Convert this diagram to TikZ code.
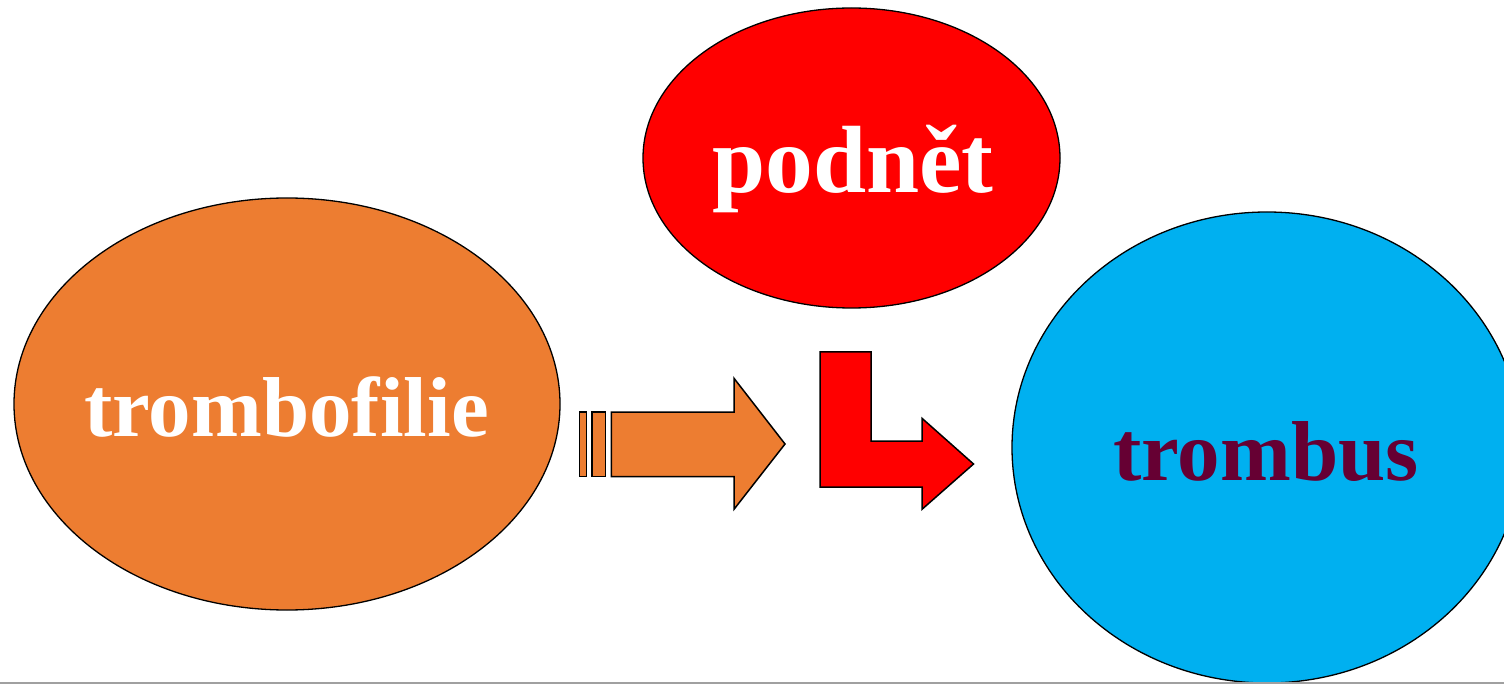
\documentclass[tikz,border=0pt]{standalone}
\usepackage{fontspec}
\setmainfont{Liberation Serif}
\usetikzlibrary{shapes.geometric}
\definecolor{orangeA}{HTML}{ED7D31}
\definecolor{redA}{HTML}{FF0000}
\definecolor{blueA}{HTML}{00B0F0}
\definecolor{maroonA}{HTML}{660033}
\definecolor{rule}{HTML}{A0A0A0}
\tikzset{
  blob/.style={ellipse, draw=black, line width=1.3pt, inner sep=0pt},
  word/.style={anchor=base, inner sep=0pt, font=\bfseries},
  blockarrow/.style={draw=black, line width=1.5pt, line join=miter},
}
\begin{document}
\begin{tikzpicture}[x=1pt, y=-1pt]
\useasboundingbox (0,0) rectangle (1504,684);
\clip (0,0) rectangle (1504,684);
\fill[white] (0,0) rectangle (1504,684);

% the three ellipses
\node[blob, fill=orangeA, minimum width=546pt, minimum height=412pt] (trombofilie) at (287,404) {};
\node[blob, fill=redA, minimum width=417pt, minimum height=300pt] (podnet) at (851.5,158) {};
\node[blob, fill=blueA, minimum width=510pt, minimum height=471pt] (trombus) at (1267,447.5) {};

% their labels
\node[word, text=white, font=\bfseries\fontsize{85}{85}\selectfont] (t1) at (286.5,436.7) {trombofilie};
\node[word, text=white, font=\bfseries\fontsize{95.5}{95.5}\selectfont] (t2) at (853,192.7) {podnět};
\node[word, text=maroonA, font=\bfseries\fontsize{85}{85}\selectfont] (t3) at (1266,480.7) {trombus};

% striped block arrow
\filldraw[blockarrow, fill=orangeA] (579.3,412) rectangle (586.7,476.7);
\filldraw[blockarrow, fill=orangeA] (592,412) rectangle (605.7,476.7);
\filldraw[blockarrow, fill=orangeA]
  (611.3,412) -- (734,412) -- (734,378.3) -- (785,444) -- (734,509.3) -- (734,476.7) -- (611.3,476.7) -- cycle;

% bent block arrow
\filldraw[blockarrow, fill=redA]
  (820,352) -- (871,352) -- (871,441) -- (922,441) -- (922,418.3) -- (973.5,464)
  -- (922,509.3) -- (922,487) -- (820,487) -- cycle;

% bottom rule
\draw[rule, line width=1.5pt] (0,683.2) -- (1504,683.2);
\end{tikzpicture}
\end{document}
